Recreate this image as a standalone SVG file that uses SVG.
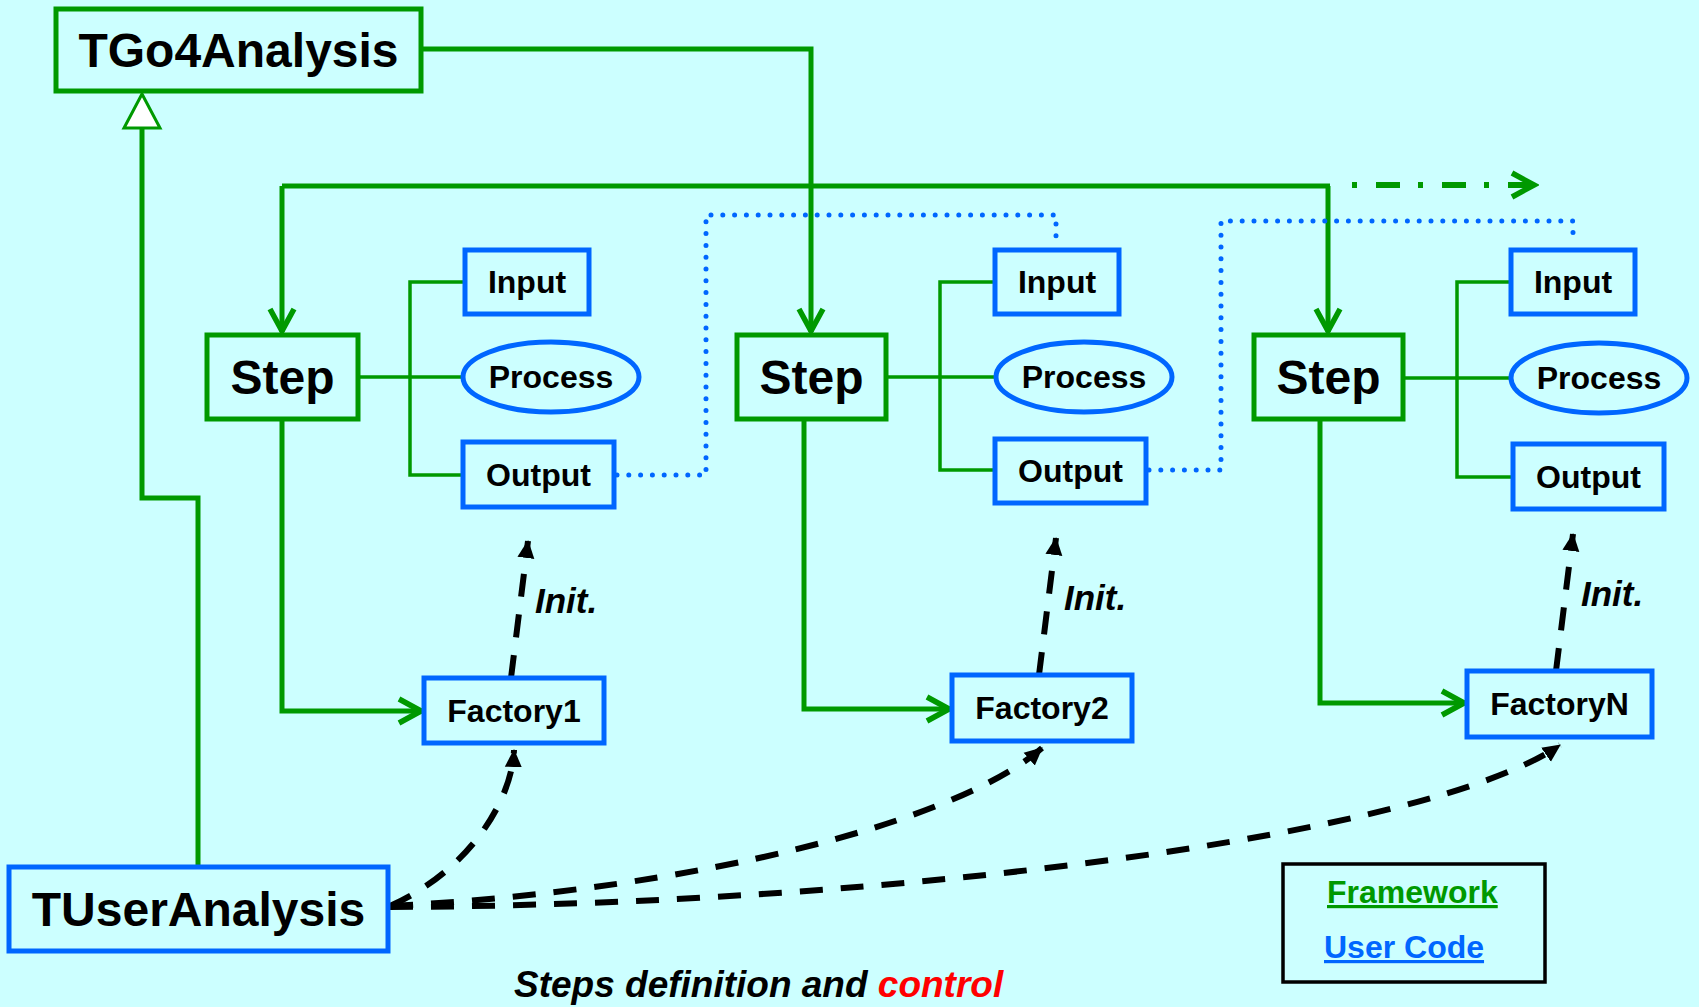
<svg xmlns="http://www.w3.org/2000/svg" width="1699" height="1007" viewBox="0 0 1699 1007">
  <style>
    .fw { fill: none; stroke: #009900; stroke-width: 5; }
    .uc { fill: none; stroke: #0066ff; stroke-width: 5; }
    .bus { fill: none; stroke: #009900; stroke-width: 5; }
    .tree { fill: none; stroke: #009900; stroke-width: 3.5; }
    .dot { fill: none; stroke: #0066ff; stroke-width: 5; stroke-linecap: round; stroke-dasharray: 0 11.8; }
    .dash { fill: none; stroke: #000; stroke-width: 6; stroke-dasharray: 23 18; }
    .ddot { fill: none; stroke: #009900; stroke-width: 6; stroke-dasharray: 5 19 24 18; }
    text { font-family: "Liberation Sans", Arial, sans-serif; font-weight: bold; fill: #000; }
    .big { font-size: 48px; text-anchor: middle; }
    .step { font-size: 48px; text-anchor: middle; }
    .small { font-size: 32px; text-anchor: middle; }
    .init { font-size: 35px; font-style: italic; }
    .legend { font-size: 32px; text-decoration: underline; }
    .caption { font-size: 37px; font-style: italic; }
  </style>
  <defs>
    <marker id="open" viewBox="0 0 32 30" markerWidth="32" markerHeight="30" refX="28" refY="15" orient="auto" markerUnits="userSpaceOnUse">
      <path d="M5,3 L27,15 L5,27" fill="none" stroke="#009900" stroke-width="5.5"/>
    </marker>
    <marker id="solid" viewBox="0 0 18 18" markerWidth="18" markerHeight="18" refX="17" refY="9" orient="auto" markerUnits="userSpaceOnUse">
      <path d="M0,0.5 L18,9 L0,17.5 Z" fill="#000"/>
    </marker>
  </defs>

  <rect x="0" y="0" width="1699" height="1007" fill="#ccffff"/>

  <!-- connectors -->
  <g id="connectors">
    <!-- analysis controls the steps -->
    <path class="bus" d="M421,49 H811 V332" marker-end="url(#open)"/>
    <path class="bus" d="M282,186 H1330"/>
    <path class="bus" d="M282,186 V332" marker-end="url(#open)"/>
    <path class="bus" d="M1328,186 V332" marker-end="url(#open)"/>
    <path class="ddot" d="M1352,185 H1535" marker-end="url(#open)"/>

    <!-- inheritance -->
    <path class="bus" d="M198,867 V498 H142 V128"/>
    <polygon points="142,94 124,128 160,128" fill="#fff" stroke="#009900" stroke-width="3"/>

    <!-- step to factory -->
    <path class="bus" d="M282,419 V711 H422" marker-end="url(#open)"/>
    <path class="bus" d="M804,419 V709 H950" marker-end="url(#open)"/>
    <path class="bus" d="M1320,419 V703 H1465" marker-end="url(#open)"/>

    <!-- step members -->
    <path class="tree" d="M358,377 H462"/>
    <path class="tree" d="M465,282 H410 V475 H463"/>
    <path class="tree" d="M886,377 H995"/>
    <path class="tree" d="M995,282 H940 V470 H995"/>
    <path class="tree" d="M1403,378 H1510"/>
    <path class="tree" d="M1511,282 H1457 V477 H1513"/>

    <!-- output to next input -->
    <path class="dot" d="M617,475 H706 V215 H1056 V240"/>
    <path class="dot" d="M1149,470 H1221 V221 H1573 V243"/>

    <!-- factory init -->
    <path class="dash" d="M511,678 L528,541" marker-end="url(#solid)"/>
    <path class="dash" d="M1039,675 L1056,538" marker-end="url(#solid)"/>
    <path class="dash" d="M1556,671 L1573,534" marker-end="url(#solid)"/>

    <!-- user analysis creates factories -->
    <path class="dash" d="M390,906 C470,870 512,800 514,750" marker-end="url(#solid)"/>
    <path class="dash" d="M390,906 C700,890 960,820 1042,748" marker-end="url(#solid)"/>
    <path class="dash" d="M390,907 C900,905 1430,835 1560,745" marker-end="url(#solid)"/>
  </g>

  <g id="tgo4analysis">
    <rect class="fw" x="56" y="9" width="365" height="82"/>
    <text class="big" x="238.5" y="67">TGo4Analysis</text>
  </g>
  <g id="tuseranalysis">
    <rect class="uc" x="9" y="867" width="379" height="84"/>
    <text class="big" x="198.5" y="926">TUserAnalysis</text>
  </g>

  <!-- step 1 -->
  <g id="step1">
    <rect class="fw" x="207" y="335" width="151" height="84"/>
    <text class="step" x="282.5" y="394">Step</text>
  </g>
  <g id="input1">
    <rect class="uc" x="465" y="250" width="124" height="64"/>
    <text class="small" x="527" y="293">Input</text>
  </g>
  <g id="process1">
    <ellipse class="uc" cx="551" cy="377" rx="88" ry="35"/>
    <text class="small" x="551" y="388">Process</text>
  </g>
  <g id="output1">
    <rect class="uc" x="463" y="442" width="151" height="65"/>
    <text class="small" x="538.5" y="486">Output</text>
  </g>
  <g id="factory1">
    <rect class="uc" x="424" y="678" width="180" height="65"/>
    <text class="small" x="514" y="722">Factory1</text>
  </g>
  <text class="init" x="535" y="613">Init.</text>

  <!-- step 2 -->
  <g id="step2">
    <rect class="fw" x="737" y="335" width="149" height="84"/>
    <text class="step" x="811.5" y="394">Step</text>
  </g>
  <g id="input2">
    <rect class="uc" x="995" y="250" width="124" height="64"/>
    <text class="small" x="1057" y="293">Input</text>
  </g>
  <g id="process2">
    <ellipse class="uc" cx="1084" cy="377" rx="88" ry="35"/>
    <text class="small" x="1084" y="388">Process</text>
  </g>
  <g id="output2">
    <rect class="uc" x="995" y="439" width="151" height="64"/>
    <text class="small" x="1070.5" y="482">Output</text>
  </g>
  <g id="factory2">
    <rect class="uc" x="952" y="675" width="180" height="66"/>
    <text class="small" x="1042" y="719">Factory2</text>
  </g>
  <text class="init" x="1064" y="610">Init.</text>

  <!-- step N -->
  <g id="step3">
    <rect class="fw" x="1254" y="335" width="149" height="84"/>
    <text class="step" x="1328.5" y="394">Step</text>
  </g>
  <g id="input3">
    <rect class="uc" x="1511" y="250" width="124" height="64"/>
    <text class="small" x="1573" y="293">Input</text>
  </g>
  <g id="process3">
    <ellipse class="uc" cx="1599" cy="378" rx="88" ry="35"/>
    <text class="small" x="1599" y="389">Process</text>
  </g>
  <g id="output3">
    <rect class="uc" x="1513" y="444" width="151" height="65"/>
    <text class="small" x="1588.5" y="488">Output</text>
  </g>
  <g id="factoryN">
    <rect class="uc" x="1467" y="671" width="185" height="66"/>
    <text class="small" x="1559.5" y="715">FactoryN</text>
  </g>
  <text class="init" x="1581" y="606">Init.</text>

  <!-- legend -->
  <g id="legend">
    <rect x="1283" y="864" width="262" height="118" fill="none" stroke="#000" stroke-width="3.5"/>
    <text class="legend" x="1327" y="903" style="fill:#009900">Framework</text>
    <text class="legend" x="1324" y="958" style="fill:#0066ff">User Code</text>
  </g>

  <text class="caption" x="514" y="997">Steps definition and <tspan style="fill:#ff0000">control</tspan></text>
</svg>
